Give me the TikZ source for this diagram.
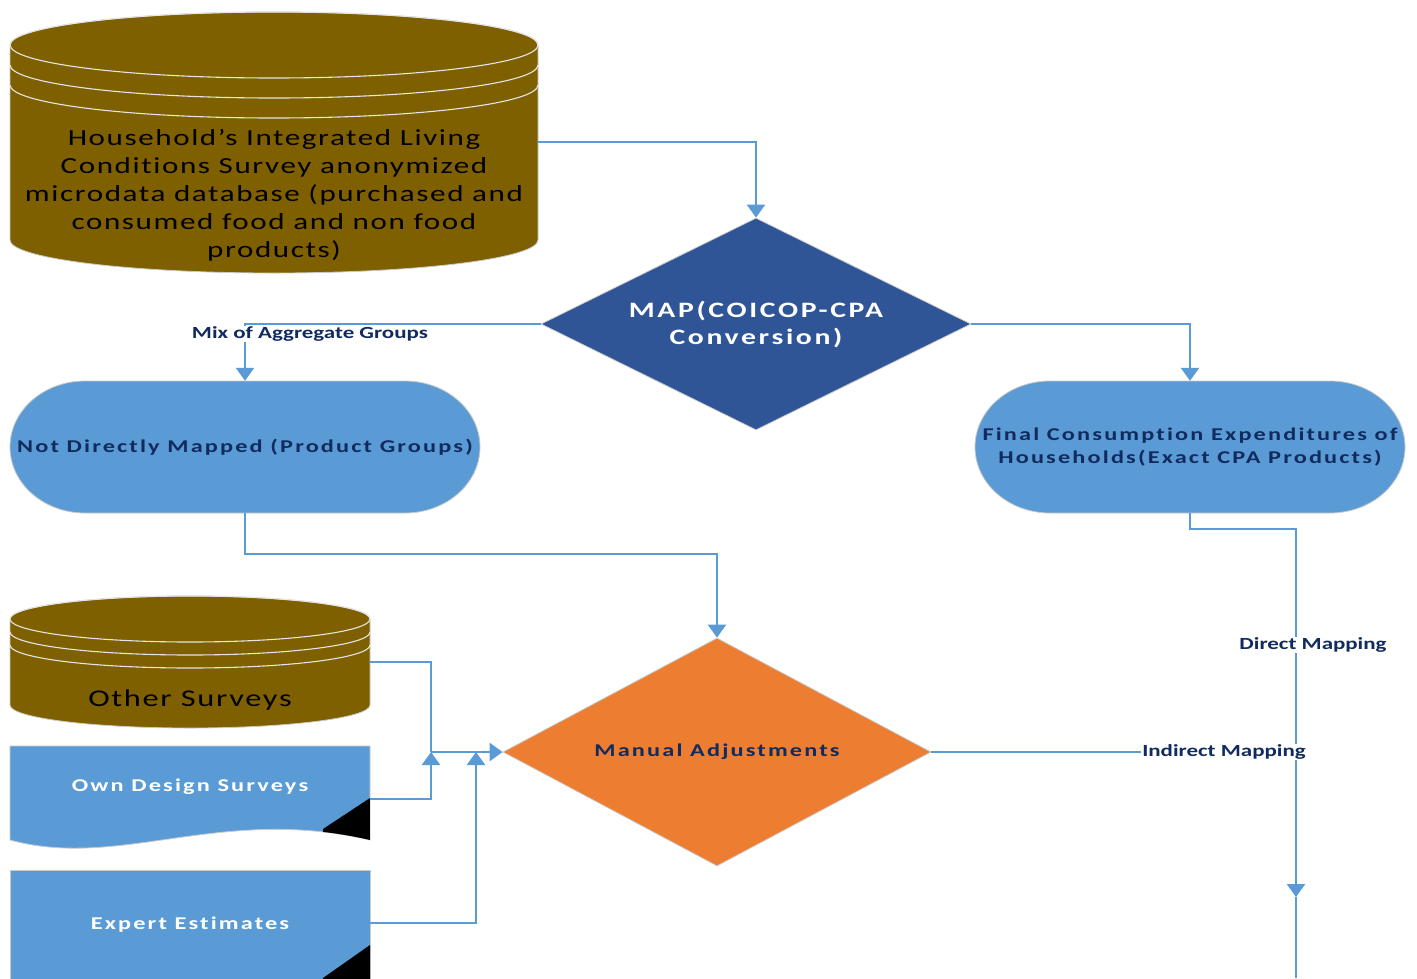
\documentclass[tikz,border=0pt]{standalone}
\usepackage{fontspec}
\setmainfont{Carlito}
\newfontfamily\plainwide{Carlito}[FakeStretch=1.35, LetterSpace=7, Ligatures=NoCommon]
\newfontfamily\boldwide{Carlito}[FakeStretch=1.35, LetterSpace=12, Ligatures=NoCommon]
\newfontfamily\tagwide{Carlito}[FakeStretch=1.35, Ligatures=NoCommon]
\usetikzlibrary{shapes.geometric,arrows.meta,backgrounds}

\definecolor{drumbrown}{HTML}{7F6000}
\definecolor{mapblue}{HTML}{2F5597}
\definecolor{paleblue}{HTML}{5B9BD5}
\definecolor{flowline}{HTML}{5B9BD5}
\definecolor{adjorange}{HTML}{ED7D31}
\definecolor{inknavy}{HTML}{112B5F}
\definecolor{rimgrey}{HTML}{C9C9C9}
\definecolor{ringwhite}{HTML}{E4E4E4}

\tikzset{
  frame/.style={inner sep=0pt, draw=none},
  flow/.style={draw=flowline, line width=2.4pt},
  arrowed/.style={-{Triangle[length=13pt,width=18pt]}},
  tag/.style={font=\tagwide\bfseries\fontsize{17}{20}\selectfont, text=inknavy, inner sep=1pt, fill=white},
  drumtext/.style={font=\plainwide\fontsize{23}{28}\selectfont, text=black, align=center, inner sep=0pt},
  boldwhite/.style={font=\boldwide\bfseries\fontsize{18}{23}\selectfont, text=white, align=center, inner sep=0pt},
  boldnavy/.style={font=\boldwide\bfseries\fontsize{18}{23}\selectfont, text=inknavy, align=center, inner sep=0pt},
  decision/.style={diamond, aspect=2, inner sep=0pt, draw=rimgrey, line width=0.8pt},
}

% database drum: centre x, top-ellipse centre y, x radius, y radius, bottom centre y, ring gap
\newcommand{\drawdrum}[6]{%
  \filldraw[fill=drumbrown, draw=rimgrey, line width=0.8pt]
    (#1-#3,#2) -- (#1-#3,#5)
    arc[start angle=180, end angle=0, x radius=#3, y radius=#4]
    -- (#1+#3,#2)
    arc[start angle=0, end angle=-180, x radius=#3, y radius=#4] -- cycle;
  \draw[ringwhite, line width=1.1pt] (#1,#2) ellipse[x radius=#3, y radius=#4];
  \foreach \k in {1,2}
    \draw[ringwhite, line width=1.1pt] (#1-#3,#2+\k*#6)
      arc[start angle=180, end angle=0, x radius=#3, y radius=#4];
}

% terminator pill: left x, right x, top y, bottom y, end x radius, end y radius
\newcommand{\drawpill}[6]{%
  \filldraw[fill=paleblue, draw=rimgrey, line width=0.8pt]
    (#1+#5,#3) -- (#2-#5,#3)
    arc[start angle=-90, end angle=90, x radius=#5, y radius=#6]
    -- (#1+#5,#4)
    arc[start angle=90, end angle=270, x radius=#5, y radius=#6] -- cycle;
}

\begin{document}
\begin{tikzpicture}[x=1pt, y=-1pt]
\useasboundingbox (0,0) rectangle (1417,978);
\fill[white] (0,0) rectangle (1417,978);

% ---- shapes ----
\drawdrum{274}{45}{264}{33}{240}{20}
\drawdrum{190}{619}{180}{23}{705}{13}

\drawpill{10}{480}{381}{513}{75}{66}
\drawpill{975}{1405}{381}{513}{75}{66}

% document shape with folded corner
\filldraw[fill=paleblue, draw=rimgrey, line width=0.8pt]
  (10,746) -- (370,746) -- (370,840) .. controls (220,805) and (120,870) .. (10,840) -- cycle;
\begin{scope}
  \clip (10,746) -- (370,746) -- (370,840) .. controls (220,805) and (120,870) .. (10,840) -- cycle;
  \fill[black] (370,798) -- (323,829) -- (323,890) -- (370,890) -- cycle;
\end{scope}

\filldraw[fill=paleblue, draw=rimgrey, line width=0.8pt] (10,870) rectangle (370,995);
\fill[black] (370,945) -- (323,978) -- (323,995) -- (370,995) -- cycle;

% ---- nodes ----
\node[frame, minimum width=528pt, minimum height=260pt] (hh) at (274,142) {};
\node[drumtext] (hhlabel) at (274,195)
  {Household’s Integrated Living\\Conditions Survey anonymized\\microdata database (purchased and\\consumed food and non food\\products)};

\node[decision, fill=mapblue, minimum width=430pt, minimum height=212pt,
      font=\boldwide\bfseries\fontsize{22}{27}\selectfont, text=white, align=center]
  (map) at (756,324) {MAP(COICOP-CPA\\Conversion)};

\node[frame, minimum width=470pt, minimum height=132pt, boldnavy] (ndm) at (245,447)
  {Not Directly Mapped (Product Groups)};
\node[frame, minimum width=430pt, minimum height=132pt, boldnavy] (fce) at (1190,447)
  {Final Consumption Expenditures of\\Households(Exact CPA Products)};

\node[decision, fill=adjorange, minimum width=428pt, minimum height=228pt, boldnavy]
  (manual) at (717,752) {Manual Adjustments};

\node[frame, minimum width=360pt, minimum height=132pt] (other) at (190,662) {};
\node[drumtext, font=\plainwide\fontsize{24}{28}\selectfont] (otherlabel) at (190,700) {Other Surveys};

\node[frame, minimum width=360pt, minimum height=106pt] (own) at (190,799) {};
\node[boldwhite] (ownlabel) at (190,787) {Own Design Surveys};

\node[frame, minimum width=360pt, minimum height=106pt] (expert) at (190,923) {};
\node[boldwhite] (expertlabel) at (190,925) {Expert Estimates};

\coordinate (merge) at (431,752);
\coordinate (merge2) at (476,752);
\coordinate (downtip) at (1296,897);
\coordinate (flowend) at (1296,978);

% ---- connectors ----
\draw[flow, arrowed] (hh.east) -| (map.north);
\draw[flow, arrowed] (map.west) -| (ndm.north);
\draw[flow, arrowed] (map.east) -| (fce.north);
\draw[flow, arrowed] (ndm.south) -- ++(0,41) -| (manual.north);
\draw[flow, arrowed] (fce.south) -- ++(0,16) -| (downtip);
\draw[flow] (downtip) -- (flowend);
\draw[flow] (manual.east) -- (manual.east -| downtip);

\draw[flow] (other.east) -| (merge);
\draw[flow, arrowed] (merge) -- (manual.west);
\draw[flow, arrowed] (own.east) -| (merge);
\draw[flow, arrowed] (expert.east) -| (merge2);

% ---- connector labels ----
\node[tag] (mixlabel) at (310,334) {Mix of Aggregate Groups};
\node[tag] (directlabel) at (1313,645) {Direct Mapping};
\node[tag] (indirectlabel) at (1224,752) {Indirect Mapping};
\end{tikzpicture}
\end{document}
